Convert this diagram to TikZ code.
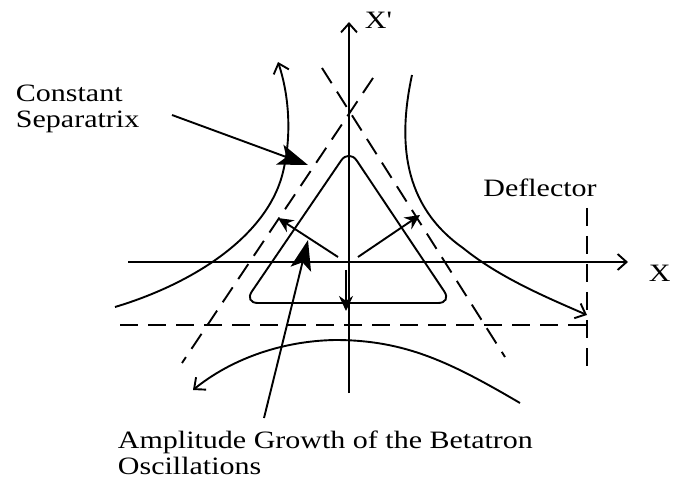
\documentclass[tikz,border=0pt]{standalone}
\usepackage{fontspec}
\setmainfont{Liberation Serif}[FakeStretch=1.2]
\usetikzlibrary{arrows.meta}

\begin{document}
\begin{tikzpicture}[x=1pt,y=-1pt,line width=1.9pt,
  lbl/.style={font=\fontsize{25}{26}\selectfont,inner sep=0pt,align=left},
  ax/.style={-{Straight Barb[length=9pt,width=16pt]}},
  sepx/.style={dash pattern=on 18pt off 10pt},
  big/.style={-{Stealth[length=30pt,width=21pt,inset=7pt]}},
  amparr/.style={-{Stealth[length=15pt,width=14pt]}}]
 \useasboundingbox (0,0) rectangle (675,481);
 % axes
 \coordinate (xl) at (128,262); \coordinate (xr) at (628,262);
 \coordinate (yb) at (349,393); \coordinate (yt) at (349,22);
 \draw[ax] (xl) -- (xr);
 \draw[ax] (yb) -- (yt);
 \node[lbl,anchor=base west] (xlab) at (648,281) {X};
 \node[lbl,anchor=base west] (yplab) at (364,29) {X\textquotesingle};
 % separatrix asymptotes and deflector
 \coordinate (s1a) at (322,68);  \coordinate (s1b) at (505,357);
 \coordinate (s2a) at (373,78);  \coordinate (s2b) at (182,363);
 \coordinate (s3a) at (120,325); \coordinate (s3b) at (587,325);
 \coordinate (dfa) at (587,208); \coordinate (dfb) at (587,367);
 \draw[sepx] (s1a) -- (s1b);
 \draw[sepx] (s2a) -- (s2b);
 \draw[sepx] (s3a) -- (s3b);
 \draw[sepx] (dfa) -- (dfb);
 \node[lbl,anchor=base] (defl) at (540,197) {Deflector};
 % unstable trajectories
 \draw[ax] (115,307) .. controls (195,283) and (268,235) .. (283,172)
   .. controls (292,135) and (289,95) .. (278,62);
 \draw[ax] (412,75) .. controls (398,140) and (402,205) .. (463,248)
   .. controls (500,278) and (548,298) .. (587,315);
 \draw[ax] (520,403) .. controls (450,362) and (405,340) .. (335,340)
   .. controls (280,341) and (230,360) .. (193,390);
 % stable orbit
 \draw[rounded corners=14pt] (347,303) -- (244,303) -- (349,149) -- (452,303) -- cycle;
 % amplitude growth
 \coordinate (o1) at (338,257); \coordinate (g1) at (278,218);
 \coordinate (o2) at (358,257); \coordinate (g2) at (420,215);
 \coordinate (o3) at (346,270); \coordinate (g3) at (346,311);
 \draw[amparr] (o1) -- (g1);
 \draw[amparr] (o2) -- (g2);
 \draw[amparr] (o3) -- (g3);
 % labels
 \node[lbl,anchor=north west] (cs) at (15,84) {Constant\\Separatrix};
 \coordinate (csa) at (172,115); \coordinate (csb) at (308,165);
 \draw[big] (csa) -- (csb);
 \node[lbl,anchor=north west] (amp) at (117,430)
   {Amplitude Growth of the Betatron\\Oscillations};
 \coordinate (ama) at (264,418); \coordinate (amb) at (308,240);
 \draw[big] (ama) -- (amb);
\end{tikzpicture}
\end{document}
